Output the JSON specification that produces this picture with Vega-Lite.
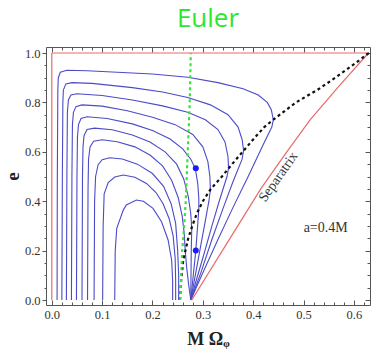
{
  "$schema": "https://vega.github.io/schema/vega-lite/v6.json",
  "width": 324,
  "height": 258,
  "autosize": "none",
  "padding": {"left": 46, "top": 47, "right": 2, "bottom": 44},
  "title": {"text": "Euler", "color": "#2ee62e", "font": "Open Sans", "fontSize": 26, "fontWeight": "normal", "frame": "group", "anchor": "middle", "offset": 18, "baseline": "alphabetic", "dy": 24},
  "config": {
    "view": {"stroke": null},
    "axis": {"grid": false, "domainColor": "#555", "tickColor": "#555", "labelFont": "Liberation Serif", "labelFontSize": 12.5, "labelColor": "#333", "titleFont": "Liberation Serif", "titleFontWeight": "bold", "titleColor": "#222", "labelOverlap": false, "labelFlush": false}
  },
  "datasets": {
    "curves": [
      {"c":1,"o":0,"x":0.0105,"y":0},{"c":1,"o":1,"x":0.011,"y":0.5},{"c":1,"o":2,"x":0.012,"y":0.85},{"c":1,"o":3,"x":0.013,"y":0.9},{"c":1,"o":4,"x":0.017,"y":0.922},{"c":1,"o":5,"x":0.03,"y":0.93},{"c":1,"o":6,"x":0.07,"y":0.928},{"c":1,"o":7,"x":0.13,"y":0.922},{"c":1,"o":8,"x":0.2,"y":0.915},{"c":1,"o":9,"x":0.27,"y":0.902},{"c":1,"o":10,"x":0.33,"y":0.88},{"c":1,"o":11,"x":0.38,"y":0.855},{"c":1,"o":12,"x":0.41,"y":0.83},{"c":1,"o":13,"x":0.428,"y":0.8},{"c":1,"o":14,"x":0.436,"y":0.77},{"c":1,"o":15,"x":0.44,"y":0.73},{"c":1,"o":16,"x":0.437,"y":0.7},{"c":1,"o":17,"x":0.42,"y":0.63},{"c":1,"o":18,"x":0.39,"y":0.5},{"c":1,"o":19,"x":0.36,"y":0.375},{"c":1,"o":20,"x":0.33,"y":0.245},{"c":1,"o":21,"x":0.3,"y":0.11},{"c":1,"o":22,"x":0.276,"y":0},
      {"c":2,"o":0,"x":0.02,"y":0},{"c":2,"o":1,"x":0.021,"y":0.5},{"c":2,"o":2,"x":0.022,"y":0.8},{"c":2,"o":3,"x":0.023,"y":0.85},{"c":2,"o":4,"x":0.028,"y":0.875},{"c":2,"o":5,"x":0.04,"y":0.88},{"c":2,"o":6,"x":0.08,"y":0.877},{"c":2,"o":7,"x":0.16,"y":0.86},{"c":2,"o":8,"x":0.22,"y":0.842},{"c":2,"o":9,"x":0.27,"y":0.82},{"c":2,"o":10,"x":0.315,"y":0.79},{"c":2,"o":11,"x":0.35,"y":0.75},{"c":2,"o":12,"x":0.37,"y":0.7},{"c":2,"o":13,"x":0.378,"y":0.65},{"c":2,"o":14,"x":0.381,"y":0.605},{"c":2,"o":15,"x":0.378,"y":0.57},{"c":2,"o":16,"x":0.36,"y":0.48},{"c":2,"o":17,"x":0.34,"y":0.37},{"c":2,"o":18,"x":0.318,"y":0.245},{"c":2,"o":19,"x":0.296,"y":0.11},{"c":2,"o":20,"x":0.276,"y":0},
      {"c":3,"o":0,"x":0.029,"y":0},{"c":3,"o":1,"x":0.03,"y":0.5},{"c":3,"o":2,"x":0.031,"y":0.76},{"c":3,"o":3,"x":0.033,"y":0.81},{"c":3,"o":4,"x":0.038,"y":0.83},{"c":3,"o":5,"x":0.05,"y":0.835},{"c":3,"o":6,"x":0.1,"y":0.828},{"c":3,"o":7,"x":0.16,"y":0.81},{"c":3,"o":8,"x":0.22,"y":0.786},{"c":3,"o":9,"x":0.27,"y":0.76},{"c":3,"o":10,"x":0.305,"y":0.73},{"c":3,"o":11,"x":0.33,"y":0.69},{"c":3,"o":12,"x":0.344,"y":0.64},{"c":3,"o":13,"x":0.35,"y":0.58},{"c":3,"o":14,"x":0.351,"y":0.533},{"c":3,"o":15,"x":0.348,"y":0.5},{"c":3,"o":16,"x":0.334,"y":0.41},{"c":3,"o":17,"x":0.318,"y":0.3},{"c":3,"o":18,"x":0.3,"y":0.17},{"c":3,"o":19,"x":0.287,"y":0.08},{"c":3,"o":20,"x":0.276,"y":0},
      {"c":4,"o":0,"x":0.039,"y":0},{"c":4,"o":1,"x":0.04,"y":0.5},{"c":4,"o":2,"x":0.041,"y":0.71},{"c":4,"o":3,"x":0.043,"y":0.76},{"c":4,"o":4,"x":0.048,"y":0.783},{"c":4,"o":5,"x":0.06,"y":0.79},{"c":4,"o":6,"x":0.1,"y":0.785},{"c":4,"o":7,"x":0.15,"y":0.766},{"c":4,"o":8,"x":0.2,"y":0.74},{"c":4,"o":9,"x":0.245,"y":0.71},{"c":4,"o":10,"x":0.28,"y":0.67},{"c":4,"o":11,"x":0.3,"y":0.62},{"c":4,"o":12,"x":0.31,"y":0.56},{"c":4,"o":13,"x":0.314,"y":0.5},{"c":4,"o":14,"x":0.315,"y":0.445},{"c":4,"o":15,"x":0.312,"y":0.4},{"c":4,"o":16,"x":0.304,"y":0.31},{"c":4,"o":17,"x":0.294,"y":0.2},{"c":4,"o":18,"x":0.285,"y":0.1},{"c":4,"o":19,"x":0.276,"y":0},
      {"c":5,"o":0,"x":0.049,"y":0},{"c":5,"o":1,"x":0.05,"y":0.5},{"c":5,"o":2,"x":0.051,"y":0.66},{"c":5,"o":3,"x":0.053,"y":0.71},{"c":5,"o":4,"x":0.058,"y":0.735},{"c":5,"o":5,"x":0.07,"y":0.742},{"c":5,"o":6,"x":0.11,"y":0.735},{"c":5,"o":7,"x":0.16,"y":0.713},{"c":5,"o":8,"x":0.2,"y":0.686},{"c":5,"o":9,"x":0.235,"y":0.652},{"c":5,"o":10,"x":0.26,"y":0.612},{"c":5,"o":11,"x":0.276,"y":0.57},{"c":5,"o":12,"x":0.285,"y":0.533},{"c":5,"o":13,"x":0.29,"y":0.47},{"c":5,"o":14,"x":0.292,"y":0.41},{"c":5,"o":15,"x":0.292,"y":0.37},{"c":5,"o":16,"x":0.29,"y":0.31},{"c":5,"o":17,"x":0.286,"y":0.2},{"c":5,"o":18,"x":0.281,"y":0.1},{"c":5,"o":19,"x":0.276,"y":0},
      {"c":6,"o":0,"x":0.06,"y":0},{"c":6,"o":1,"x":0.061,"y":0.5},{"c":6,"o":2,"x":0.062,"y":0.62},{"c":6,"o":3,"x":0.064,"y":0.665},{"c":6,"o":4,"x":0.07,"y":0.69},{"c":6,"o":5,"x":0.085,"y":0.696},{"c":6,"o":6,"x":0.12,"y":0.689},{"c":6,"o":7,"x":0.16,"y":0.668},{"c":6,"o":8,"x":0.195,"y":0.64},{"c":6,"o":9,"x":0.225,"y":0.6},{"c":6,"o":10,"x":0.248,"y":0.55},{"c":6,"o":11,"x":0.262,"y":0.49},{"c":6,"o":12,"x":0.271,"y":0.42},{"c":6,"o":13,"x":0.276,"y":0.35},{"c":6,"o":14,"x":0.278,"y":0.29},{"c":6,"o":15,"x":0.277,"y":0.2},{"c":6,"o":16,"x":0.2765,"y":0.1},{"c":6,"o":17,"x":0.276,"y":0},
      {"c":7,"o":0,"x":0.071,"y":0},{"c":7,"o":1,"x":0.072,"y":0.45},{"c":7,"o":2,"x":0.073,"y":0.57},{"c":7,"o":3,"x":0.076,"y":0.62},{"c":7,"o":4,"x":0.083,"y":0.643},{"c":7,"o":5,"x":0.1,"y":0.649},{"c":7,"o":6,"x":0.13,"y":0.641},{"c":7,"o":7,"x":0.165,"y":0.62},{"c":7,"o":8,"x":0.195,"y":0.587},{"c":7,"o":9,"x":0.22,"y":0.543},{"c":7,"o":10,"x":0.238,"y":0.485},{"c":7,"o":11,"x":0.251,"y":0.415},{"c":7,"o":12,"x":0.259,"y":0.34},{"c":7,"o":13,"x":0.263,"y":0.27},{"c":7,"o":14,"x":0.265,"y":0.2},{"c":7,"o":15,"x":0.268,"y":0.13},{"c":7,"o":16,"x":0.272,"y":0.06},{"c":7,"o":17,"x":0.276,"y":0},
      {"c":8,"o":0,"x":0.084,"y":0},{"c":8,"o":1,"x":0.085,"y":0.4},{"c":8,"o":2,"x":0.087,"y":0.5},{"c":8,"o":3,"x":0.092,"y":0.548},{"c":8,"o":4,"x":0.1,"y":0.568},{"c":8,"o":5,"x":0.115,"y":0.576},{"c":8,"o":6,"x":0.14,"y":0.571},{"c":8,"o":7,"x":0.17,"y":0.55},{"c":8,"o":8,"x":0.2,"y":0.512},{"c":8,"o":9,"x":0.222,"y":0.46},{"c":8,"o":10,"x":0.237,"y":0.39},{"c":8,"o":11,"x":0.246,"y":0.31},{"c":8,"o":12,"x":0.25,"y":0.2},{"c":8,"o":13,"x":0.252,"y":0.1},{"c":8,"o":14,"x":0.252,"y":0},
      {"c":9,"o":0,"x":0.101,"y":0},{"c":9,"o":1,"x":0.102,"y":0.3},{"c":9,"o":2,"x":0.104,"y":0.43},{"c":9,"o":3,"x":0.112,"y":0.475},{"c":9,"o":4,"x":0.125,"y":0.498},{"c":9,"o":5,"x":0.142,"y":0.506},{"c":9,"o":6,"x":0.165,"y":0.497},{"c":9,"o":7,"x":0.188,"y":0.472},{"c":9,"o":8,"x":0.207,"y":0.435},{"c":9,"o":9,"x":0.221,"y":0.39},{"c":9,"o":10,"x":0.233,"y":0.33},{"c":9,"o":11,"x":0.241,"y":0.26},{"c":9,"o":12,"x":0.245,"y":0.17},{"c":9,"o":13,"x":0.246,"y":0.08},{"c":9,"o":14,"x":0.246,"y":0},
      {"c":10,"o":0,"x":0.125,"y":0},{"c":10,"o":1,"x":0.126,"y":0.2},{"c":10,"o":2,"x":0.129,"y":0.29},{"c":10,"o":3,"x":0.142,"y":0.364},{"c":10,"o":4,"x":0.148,"y":0.385},{"c":10,"o":5,"x":0.168,"y":0.405},{"c":10,"o":6,"x":0.182,"y":0.4},{"c":10,"o":7,"x":0.201,"y":0.371},{"c":10,"o":8,"x":0.218,"y":0.317},{"c":10,"o":9,"x":0.231,"y":0.243},{"c":10,"o":10,"x":0.238,"y":0.162},{"c":10,"o":11,"x":0.24,"y":0.08},{"c":10,"o":12,"x":0.24,"y":0}
    ],
    "red": [
      {"c":"left","o":0,"x":0,"y":0},{"c":"left","o":1,"x":0,"y":1},
      {"c":"top","o":0,"x":0,"y":1},{"c":"top","o":1,"x":0.629,"y":1},
      {"c":"sep","o":0,"x":0.278,"y":0},{"c":"sep","o":1,"x":0.345,"y":0.22},{"c":"sep","o":2,"x":0.415,"y":0.45},{"c":"sep","o":3,"x":0.465,"y":0.595},{"c":"sep","o":4,"x":0.513,"y":0.729},{"c":"sep","o":5,"x":0.57,"y":0.865},{"c":"sep","o":6,"x":0.629,"y":1}
    ],
    "black": [
      {"o":0,"x":0.2545,"y":0},{"o":1,"x":0.257,"y":0.08},{"o":2,"x":0.261,"y":0.16},{"o":3,"x":0.271,"y":0.25},{"o":4,"x":0.279,"y":0.3},{"o":5,"x":0.288,"y":0.35},{"o":6,"x":0.3,"y":0.4},{"o":7,"x":0.316,"y":0.45},{"o":8,"x":0.338,"y":0.5},{"o":9,"x":0.358,"y":0.55},{"o":10,"x":0.379,"y":0.6},{"o":11,"x":0.4,"y":0.65},{"o":12,"x":0.422,"y":0.7},{"o":13,"x":0.44,"y":0.73},{"o":14,"x":0.485,"y":0.8},{"o":15,"x":0.527,"y":0.85},{"o":16,"x":0.563,"y":0.9},{"o":17,"x":0.597,"y":0.95},{"o":18,"x":0.63,"y":1}
    ],
    "green": [
      {"o":0,"x":0.255,"y":0},{"o":1,"x":0.257,"y":0.1},{"o":2,"x":0.259,"y":0.2},{"o":3,"x":0.263,"y":0.3},{"o":4,"x":0.266,"y":0.4},{"o":5,"x":0.268,"y":0.5},{"o":6,"x":0.27,"y":0.6},{"o":7,"x":0.272,"y":0.7},{"o":8,"x":0.274,"y":0.8},{"o":9,"x":0.275,"y":0.9},{"o":10,"x":0.276,"y":1}
    ],
    "dots": [{"x":0.286,"y":0.533},{"x":0.286,"y":0.2}],
    "labels": [{"x":0.45,"y":0.498,"t":"Separatrix"}],
    "labels2": [{"x":0.544,"y":0.29,"t":"a=0.4M"}]
  },
  "layer": [
    {
      "data": {"name": "curves"},
      "mark": {"type": "line", "color": "#4b4bc8", "strokeWidth": 1.1},
      "encoding": {
        "x": {"field": "x", "type": "quantitative", "scale": {"domain": [-0.0115, 0.632], "nice": false, "zero": false},
          "axis": {"orient": "bottom", "title": "M Ωᵩ", "titleFontSize": 18, "titlePadding": 8,
            "values": [0,0.02,0.04,0.06,0.08,0.1,0.12,0.14,0.16,0.18,0.2,0.22,0.24,0.26,0.28,0.3,0.32,0.34,0.36,0.38,0.4,0.42,0.44,0.46,0.48,0.5,0.52,0.54,0.56,0.58,0.6,0.62],
            "labelExpr": "abs(datum.value*10-round(datum.value*10))<0.001 ? format(datum.value,'.1f') : ''",
            "tickSize": {"condition": {"test": "abs(datum.value*10-round(datum.value*10))<0.001", "value": -5}, "value": -3},
            "labelPadding": 8}},
        "y": {"field": "y", "type": "quantitative", "scale": {"domain": [-0.0202, 1.0243], "nice": false, "zero": false},
          "axis": {"orient": "left", "title": "e", "titleFontSize": 19, "titlePadding": 2,
            "values": [0,0.05,0.1,0.15,0.2,0.25,0.3,0.35,0.4,0.45,0.5,0.55,0.6,0.65,0.7,0.75,0.8,0.85,0.9,0.95,1],
            "labelExpr": "abs(datum.value*5-round(datum.value*5))<0.001 ? format(datum.value,'.1f') : ''",
            "tickSize": {"condition": {"test": "abs(datum.value*5-round(datum.value*5))<0.001", "value": 4}, "value": 2},
            "labelPadding": 2}},
        "detail": {"field": "c", "type": "nominal"},
        "order": {"field": "o", "type": "quantitative"}
      }
    },
    {
      "data": {"name": "red"},
      "mark": {"type": "line", "color": "#e86a6a", "strokeWidth": 1.2},
      "encoding": {
        "x": {"field": "x", "type": "quantitative", "scale": {"domain": [-0.0115, 0.632], "nice": false, "zero": false},
          "axis": {"orient": "top", "title": null, "labels": false,
            "values": [0,0.02,0.04,0.06,0.08,0.1,0.12,0.14,0.16,0.18,0.2,0.22,0.24,0.26,0.28,0.3,0.32,0.34,0.36,0.38,0.4,0.42,0.44,0.46,0.48,0.5,0.52,0.54,0.56,0.58,0.6,0.62],
            "tickSize": {"condition": {"test": "abs(datum.value*10-round(datum.value*10))<0.001", "value": -5}, "value": -3}}},
        "y": {"field": "y", "type": "quantitative", "scale": {"domain": [-0.0202, 1.0243], "nice": false, "zero": false},
          "axis": {"orient": "right", "title": null, "labels": false,
            "values": [0,0.05,0.1,0.15,0.2,0.25,0.3,0.35,0.4,0.45,0.5,0.55,0.6,0.65,0.7,0.75,0.8,0.85,0.9,0.95,1],
            "tickSize": {"condition": {"test": "abs(datum.value*5-round(datum.value*5))<0.001", "value": -5}, "value": -3}}},
        "detail": {"field": "c", "type": "nominal"},
        "order": {"field": "o", "type": "quantitative"}
      }
    },
    {
      "data": {"name": "black"},
      "mark": {"type": "line", "color": "#111111", "strokeWidth": 2.2, "strokeDash": [3, 3]},
      "encoding": {
        "x": {"field": "x", "type": "quantitative", "axis": null},
        "y": {"field": "y", "type": "quantitative", "axis": null},
        "order": {"field": "o", "type": "quantitative"}
      }
    },
    {
      "data": {"name": "green"},
      "mark": {"type": "line", "color": "#33e633", "strokeWidth": 2.2, "strokeDash": [3, 3]},
      "encoding": {
        "x": {"field": "x", "type": "quantitative", "axis": null},
        "y": {"field": "y", "type": "quantitative", "axis": null},
        "order": {"field": "o", "type": "quantitative"}
      }
    },
    {
      "data": {"name": "dots"},
      "mark": {"type": "point", "filled": true, "color": "#1a1aff", "size": 36, "opacity": 1},
      "encoding": {
        "x": {"field": "x", "type": "quantitative", "axis": null},
        "y": {"field": "y", "type": "quantitative", "axis": null}
      }
    },
    {
      "data": {"name": "labels"},
      "mark": {"type": "text", "font": "Liberation Serif", "fontSize": 14, "color": "#333", "angle": -55},
      "encoding": {
        "x": {"field": "x", "type": "quantitative", "axis": null},
        "y": {"field": "y", "type": "quantitative", "axis": null},
        "text": {"field": "t"}
      }
    },
    {
      "data": {"name": "labels2"},
      "mark": {"type": "text", "font": "Liberation Serif", "fontSize": 14, "color": "#333"},
      "encoding": {
        "x": {"field": "x", "type": "quantitative", "axis": null},
        "y": {"field": "y", "type": "quantitative", "axis": null},
        "text": {"field": "t"}
      }
    }
  ],
  "resolve": {"axis": {"x": "independent", "y": "independent"}}
}
